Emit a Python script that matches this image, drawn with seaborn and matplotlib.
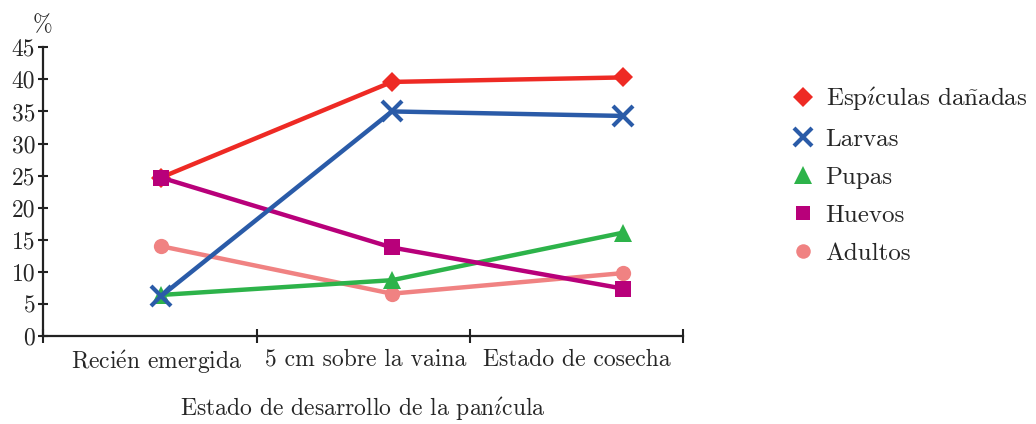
import matplotlib
matplotlib.use("Agg")
import matplotlib.pyplot as plt
from matplotlib.lines import Line2D
import seaborn as sns
import pandas as pd

# Growth stages of the panicle (accents written as mathtext so the
# Computer Modern face is kept throughout)
stages = [r"Reci$\acute{\mathrm{e}}$n emergida", "5 cm sobre la vaina", "Estado de cosecha"]

# Percentages per stage
espiculas = [24.7, 39.6, 40.3]
larvas = [6.2, 35.0, 34.3]
pupas = [6.4, 8.7, 16.1]
huevos = [24.7, 13.8, 7.4]
adultos = [14.0, 6.6, 9.8]

series_names = ["Espículas dañadas", "Larvas", "Pupas", "Huevos", "Adultos"]
series_labels = [r"Esp$\acute{\imath}$culas da$\tilde{\mathrm{n}}$adas", "Larvas", "Pupas", "Huevos", "Adultos"]
series_values = [espiculas, larvas, pupas, huevos, adultos]

y_ticks = [0, 5, 10, 15, 20, 25, 30, 35, 40, 45]

styles = {
    "Espículas dañadas": dict(color="#EE2A24", marker="D", ms=10.5, z=3),
    "Larvas": dict(color="#2A5BA8", marker="x", ms=14, z=6),
    "Pupas": dict(color="#2DB34A", marker="^", ms=13, z=4),
    "Huevos": dict(color="#B8007A", marker="s", ms=11, z=5),
    "Adultos": dict(color="#F08282", marker="o", ms=11, z=2),
}

rows = []
for name, vals in zip(series_names, series_values):
    for i, v in enumerate(vals):
        rows.append({"serie": name, "pos": i, "valor": v})
df = pd.DataFrame(rows)

sns.set_theme(style="ticks")
plt.rcParams["font.family"] = ["cmr10", "DejaVu Serif"]
plt.rcParams["mathtext.fontset"] = "cm"
plt.rcParams["axes.unicode_minus"] = False

fig = plt.figure(figsize=(10.36, 4.24), dpi=100)
ax = fig.add_axes([0.0415, 0.2075, 0.6175, 0.681])

for name in series_names:
    st = styles[name]
    sub = df[df["serie"] == name]
    sns.lineplot(data=sub, x="pos", y="valor", ax=ax, color=st["color"],
                 linewidth=3.2, marker=st["marker"], markersize=st["ms"],
                 markeredgecolor=st["color"], markeredgewidth=3 if st["marker"] == "x" else 0,
                 zorder=st["z"], legend=False)

# Axis limits: x band edges around the three stages, labels inside the bands
x_left, x_right = -0.511, 2.26
edges = [x_left, 0.416, 1.338, x_right]
label_pos = [-0.02, 0.885, 1.80]
ax.set_xlim(x_left, x_right)
ax.set_ylim(0, 45)

fs = 17
ax.set_xticks(edges, minor=True)
ax.set_xticks(label_pos)
ax.set_xticklabels(stages, fontsize=fs)
ax.tick_params(axis="x", which="major", length=0, pad=9)
ax.tick_params(axis="x", which="minor", direction="inout", length=10, width=1.5, color="#222222")

ax.set_yticks(y_ticks)
ax.set_yticklabels([str(t) for t in y_ticks], fontsize=fs)
ax.tick_params(axis="y", direction="inout", length=7, width=1.5, color="#222222", pad=2)

for side in ["top", "right"]:
    ax.spines[side].set_visible(False)
for side in ["left", "bottom"]:
    ax.spines[side].set_linewidth(1.6)
    ax.spines[side].set_color("#222222")

ax.set_xlabel(r"Estado de desarrollo de la pan$\acute{\imath}$cula", fontsize=fs, labelpad=14)
ax.set_ylabel("")
ax.text(0.0, 1.04, "%", transform=ax.transAxes, fontsize=fs, ha="center", va="bottom")

handles = [Line2D([], [], linestyle="none", marker=styles[n]["marker"],
                  color=styles[n]["color"], markeredgecolor=styles[n]["color"],
                  markersize=styles[n]["ms"] * 0.95,
                  markeredgewidth=3 if styles[n]["marker"] == "x" else 0)
           for n in series_names]
fig.legend(handles, series_labels, loc="upper left", bbox_to_anchor=(0.739, 0.852),
           frameon=False, fontsize=18, handletextpad=0.3, labelspacing=0.62,
           handlelength=1.2)

fig.savefig("out.png", dpi=100)
